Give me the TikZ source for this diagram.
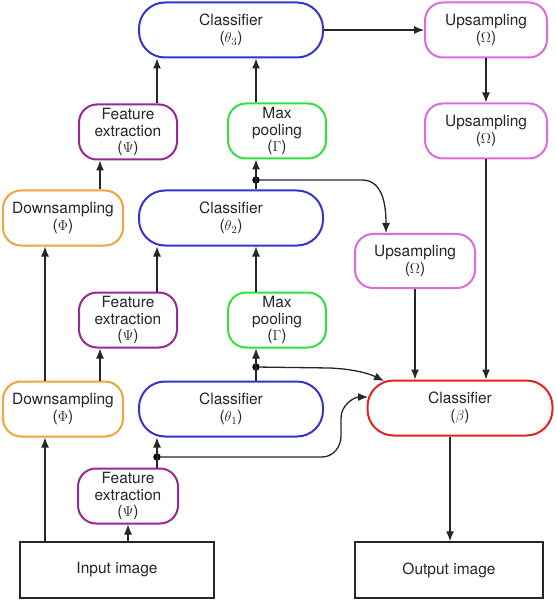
\documentclass[tikz,border=0pt]{standalone}
\usepackage{fontspec}
\setmainfont{TeX Gyre Heros}
\usetikzlibrary{arrows.meta}
\definecolor{cOrange}{HTML}{F2A33A}
\definecolor{cPurple}{HTML}{96289A}
\definecolor{cBlue}{HTML}{3434CC}
\definecolor{cGreen}{HTML}{33E040}
\definecolor{cMagenta}{HTML}{DD6BDD}
\definecolor{cRed}{HTML}{E02424}
\definecolor{cInk}{HTML}{262626}
\tikzset{
  box/.style={draw, line width=2pt, align=center, inner sep=0pt, text=cInk,
    font=\fontsize{15.5}{16.5}\selectfont, fill=white},
  clf/.style={box, draw=cBlue, rounded corners=26pt, minimum width=184pt, minimum height=55pt},
  ups/.style={box, draw=cMagenta, rounded corners=18pt, minimum width=122pt, minimum height=55pt},
  dws/.style={box, draw=cOrange, rounded corners=18pt, minimum width=120pt, minimum height=55pt},
  fex/.style={box, draw=cPurple, rounded corners=18pt, minimum width=98pt, minimum height=55pt},
  mpl/.style={box, draw=cGreen, rounded corners=18pt, minimum width=98pt, minimum height=55pt},
  img/.style={box, draw=cInk, line width=1.4pt, minimum width=194pt, minimum height=56pt},
  arr/.style={draw=cInk, line width=1.3pt, -{Latex[length=10pt,width=8pt]}},
  jdot/.style={circle, fill=black, inner sep=0pt, minimum size=7.5pt}
}
\begin{document}
\begin{tikzpicture}[x=1pt,y=-1pt]
\useasboundingbox (0,0) rectangle (556,601);
% nodes
\node[clf] (c3) at (231,30) {Classifier\\[1pt]($\theta_3$)};
\node[ups] (u1) at (486,30) {Upsampling\\[1pt]($\Omega$)};
\node[fex] (fe3) at (128,132) {Feature\\extraction\\($\Psi$)};
\node[mpl] (mp2) at (277,131) {Max\\pooling\\($\Gamma$)};
\node[ups] (u2) at (486,131) {Upsampling\\[1pt]($\Omega$)};
\node[dws] (ds2) at (63,218) {Downsampling\\[1pt]($\Phi$)};
\node[clf] (c2) at (231,218) {Classifier\\[1pt]($\theta_2$)};
\node[ups, minimum width=120pt, minimum height=54pt] (u3) at (415,261) {Upsampling\\[1pt]($\Omega$)};
\node[fex] (fe2) at (128,320) {Feature\\extraction\\($\Psi$)};
\node[mpl] (mp1) at (277,320) {Max\\pooling\\($\Gamma$)};
\node[dws] (ds1) at (63,409) {Downsampling\\[1pt]($\Phi$)};
\node[clf] (c1) at (231,409) {Classifier\\[1pt]($\theta_1$)};
\node[clf, draw=cRed, minimum width=185pt] (beta) at (460,408) {Classifier\\[1pt]($\beta$)};
\node[fex, minimum width=100pt] (fe1) at (128,496) {Feature\\extraction\\($\Psi$)};
\node[img] (in) at (117,570) {Input image};
\node[img, minimum width=188pt] (out) at (449,570) {Output image};
% x positions of connectors
\coordinate (xa) at (45,0);
\coordinate (xb) at (100,0);
\coordinate (xc) at (157,0);
\coordinate (xd) at (256,0);
\coordinate (xe) at (386,0);
\coordinate (xf) at (415,0);
\coordinate (xg) at (486,0);
\coordinate (xh) at (450,0);
% junction dots
\node[jdot] (d1) at (157,457) {};
\node[jdot] (d2) at (256,367) {};
\node[jdot] (d3) at (256,180) {};
% straight connectors
\draw[arr] (in.north -| xa) -- (ds1.south -| xa);
\draw[arr] (in.north -| fe1.south) -- (fe1.south);
\draw[arr] (fe1.north -| xc) -- (c1.south -| xc);
\draw[arr] (ds1.north -| xa) -- (ds2.south -| xa);
\draw[arr] (ds1.north -| xb) -- (fe2.south -| xb);
\draw[arr] (fe2.north -| xc) -- (c2.south -| xc);
\draw[arr] (c1.north -| xd) -- (mp1.south -| xd);
\draw[arr] (mp1.north -| xd) -- (c2.south -| xd);
\draw[arr] (c2.north -| xd) -- (mp2.south -| xd);
\draw[arr] (ds2.north -| xb) -- (fe3.south -| xb);
\draw[arr] (fe3.north -| xc) -- (c3.south -| xc);
\draw[arr] (mp2.north -| xd) -- (c3.south -| xd);
\draw[arr] (c3.east) -- (u1.west);
\draw[arr] (u1.south) -- (u2.north);
\draw[arr] (u2.south -| xg) -- (beta.north -| xg);
\draw[arr] (u3.south -| xf) -- (beta.north -| xf);
\draw[arr] (beta.south -| xh) -- (out.north -| xh);
% curved connectors
\coordinate (b1) at (368,397);
\coordinate (b2) at (384,381);
\draw[arr] (d1) -- (322,457) to[out=0,in=-90] (341,436) -- (341,418) to[out=90,in=180] (b1);
\draw[arr] (d2) -- (330,368) .. controls (352,369) and (368,373) .. (b2);
\draw[arr] (d3) -- (362,180) to[out=0,in=90] (u3.north -| xe);
\end{tikzpicture}
\end{document}
